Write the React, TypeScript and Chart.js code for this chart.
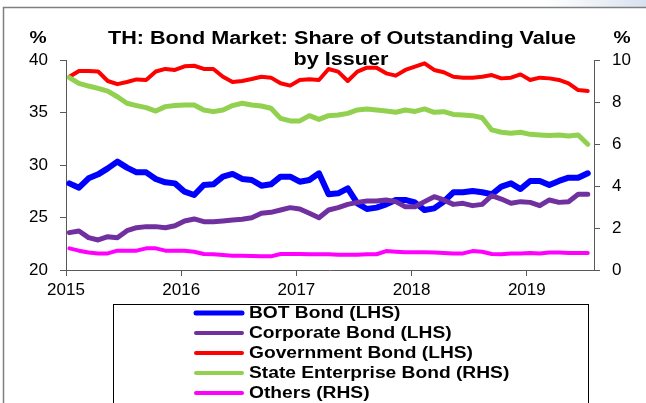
import React, { useEffect, useRef } from 'react';
import { Chart, registerables } from 'chart.js';

Chart.register(...registerables);

// ---- Data (monthly, Jan 2015 – Jul 2019) ----
const yearLabels = ['2015', '2016', '2017', '2018', '2019'];

const botBond = [
  28.25, 27.84, 28.73, 29.11, 29.68, 30.32, 29.75, 29.3, 29.3, 28.67, 28.35, 28.25,
  27.46, 27.14, 28.1, 28.16, 28.89, 29.15, 28.67, 28.57, 28.03, 28.16, 28.89, 28.89,
  28.41, 28.57, 29.21, 27.21, 27.3, 27.78, 26.35, 25.81, 25.94, 26.25, 26.67, 26.67,
  26.43, 25.71, 25.87, 26.51, 27.4, 27.4, 27.52, 27.4, 27.21, 27.94, 28.25, 27.71,
  28.48, 28.48, 28.1, 28.48, 28.79, 28.79, 29.21,
];

const corporateBond = [
  23.56, 23.71, 23.08, 22.86, 23.17, 23.08, 23.74, 24.03, 24.13, 24.13, 24.03, 24.22,
  24.67, 24.86, 24.6, 24.6, 24.67, 24.76, 24.83, 24.98, 25.4, 25.49, 25.71, 25.94,
  25.81, 25.4, 24.98, 25.71, 25.94, 26.25, 26.44, 26.57, 26.57, 26.67, 26.51, 26.03,
  26.03, 26.51, 26.98, 26.67, 26.25, 26.35, 26.13, 26.25, 27.08, 26.76, 26.35, 26.51,
  26.44, 26.13, 26.67, 26.44, 26.51, 27.21, 27.21,
];

const governmentBond = [
  38.4, 38.95, 38.95, 38.9, 38.0, 37.7, 37.9, 38.15, 38.1, 38.9, 39.15, 39.05,
  39.4, 39.45, 39.15, 39.15, 38.4, 37.9, 38.0, 38.19, 38.41, 38.32, 37.78, 37.56,
  38.1, 38.16, 38.1, 39.14, 38.89, 38.0, 38.89, 39.27, 39.27, 38.73, 38.51, 39.05,
  39.37, 39.68, 39.05, 38.83, 38.41, 38.32, 38.32, 38.41, 38.57, 38.25, 38.32, 38.63,
  38.1, 38.32, 38.25, 38.1, 37.78, 37.14, 37.05,
];

const stateEnterpriseBond = [
  9.16, 8.89, 8.76, 8.65, 8.52, 8.25, 7.94, 7.83, 7.73, 7.57, 7.78, 7.83,
  7.86, 7.86, 7.62, 7.54, 7.62, 7.83, 7.94, 7.86, 7.81, 7.7, 7.22, 7.1,
  7.1, 7.35, 7.17, 7.35, 7.38, 7.46, 7.62, 7.67, 7.62, 7.57, 7.51, 7.62,
  7.55, 7.67, 7.51, 7.54, 7.41, 7.38, 7.35, 7.25, 6.67, 6.56, 6.51, 6.56,
  6.46, 6.43, 6.4, 6.43, 6.38, 6.43, 5.99,
];

const others = [
  1.03, 0.92, 0.83, 0.79, 0.79, 0.92, 0.92, 0.92, 1.03, 1.03, 0.92, 0.92,
  0.92, 0.87, 0.76, 0.75, 0.71, 0.68, 0.68, 0.67, 0.65, 0.65, 0.76, 0.76,
  0.76, 0.75, 0.75, 0.75, 0.73, 0.73, 0.73, 0.75, 0.75, 0.9, 0.87, 0.84,
  0.84, 0.84, 0.83, 0.81, 0.79, 0.79, 0.9, 0.87, 0.76, 0.75, 0.78, 0.79,
  0.81, 0.79, 0.83, 0.83, 0.81, 0.81, 0.81,
];

const seriesNames = [
  'BOT Bond (LHS)',
  'Corporate Bond (LHS)',
  'Government Bond (LHS)',
  'State Enterprise Bond (RHS)',
  'Others (RHS)',
];
const seriesColors = ['#0000FF', '#7030A0', '#FF0000', '#92D050', '#FF00FF'];
const seriesWidths = [6, 5, 4, 5, 4];
const seriesAxes = ['y', 'y', 'y', 'y1', 'y1'];
const seriesValues = [botBond, corporateBond, governmentBond, stateEnterpriseBond, others];

const titleLines = ['TH: Bond Market: Share of Outstanding Value', 'by Issuer'];
const FONT = "'Liberation Sans', Arial, Helvetica, sans-serif";
const SX = 1.2; // horizontal stretch of the original picture's text

const toPoints = (arr: number[]) => arr.map((v, i) => ({ x: i + 0.35, y: v }));

function stretchedText(ctx: CanvasRenderingContext2D, text: string, x: number, y: number, align: CanvasTextAlign) {
  ctx.save();
  ctx.translate(x, y);
  ctx.scale(SX, 1);
  ctx.textAlign = align;
  ctx.fillText(text, 0, 0);
  ctx.restore();
}

const decorPlugin = {
  id: 'decor',
  beforeDraw(chart: any) {
    const ctx: CanvasRenderingContext2D = chart.ctx;
    ctx.save();
    ctx.fillStyle = '#ffffff';
    ctx.fillRect(0, 0, chart.width, chart.height);
    const g = ctx.createLinearGradient(540, 0, 646, 0);
    g.addColorStop(0, 'rgba(225,232,242,0)');
    g.addColorStop(1, 'rgba(215,225,238,1)');
    ctx.fillStyle = g;
    ctx.fillRect(540, 0, 106, 7);
    ctx.strokeStyle = '#7f7f7f';
    ctx.lineWidth = 1.5;
    ctx.beginPath();
    ctx.moveTo(3.5, chart.height);
    ctx.lineTo(3.5, 7.5);
    ctx.lineTo(chart.width, 7.5);
    ctx.stroke();
    ctx.restore();
  },
  afterDraw(chart: any) {
    const ctx: CanvasRenderingContext2D = chart.ctx;
    ctx.save();
    ctx.fillStyle = '#000';
    ctx.textBaseline = 'alphabetic';
    ctx.font = `bold 18px ${FONT}`;
    stretchedText(ctx, titleLines[0], 342, 43.5, 'center');
    stretchedText(ctx, titleLines[1], 341, 64.5, 'center');
    ctx.font = `bold 16px ${FONT}`;
    ctx.textBaseline = 'middle';
    stretchedText(ctx, '%', 38, 39, 'center');
    stretchedText(ctx, '%', 622, 39, 'center');

    // legend
    ctx.strokeStyle = '#000';
    ctx.lineWidth = 1;
    ctx.strokeRect(113.5, 304.5, 475, 130);
    ctx.font = `bold 16px ${FONT}`;
    ctx.textBaseline = 'middle';
    chart.data.datasets.forEach((ds: any, k: number) => {
      const y = 313 + k * 20;
      ctx.strokeStyle = ds.borderColor;
      ctx.lineWidth = k === 0 ? 5 : 4;
      ctx.lineCap = 'round';
      ctx.beginPath();
      ctx.moveTo(196, y);
      ctx.lineTo(242, y);
      ctx.stroke();
      ctx.fillStyle = '#000';
      stretchedText(ctx, ds.label, 249, y + 1, 'left');
    });
    ctx.restore();
  },
};

export default function App() {
  const ref = useRef<HTMLCanvasElement | null>(null);

  useEffect(() => {
    if (!ref.current) return;
    const tickFont = { family: FONT, size: 17 };
    const axisColor = '#595959';
    const chart = new Chart(ref.current, {
      type: 'line',
      data: {
        datasets: seriesNames.map((name, k) => ({
          label: name,
          data: toPoints(seriesValues[k]),
          borderColor: seriesColors[k],
          backgroundColor: seriesColors[k],
          borderWidth: seriesWidths[k],
          pointRadius: 0,
          tension: 0,
          fill: false,
          borderJoinStyle: 'round' as const,
          borderCapStyle: 'round' as const,
          yAxisID: seriesAxes[k],
          order: seriesNames.length - k,
        })),
      },
      options: {
        responsive: false,
        animation: false,
        events: [],
        layout: { padding: { top: 60, left: 0, right: 0, bottom: 0 } },
        plugins: {
          legend: { display: false },
          title: { display: false },
          tooltip: { enabled: false },
        },
        scales: {
          x: {
            type: 'linear',
            min: 0,
            max: 55,
            afterBuildTicks: (s: any) => {
              s.ticks = yearLabels.map((_, k) => ({ value: k * 12 }));
            },
            afterFit: (s: any) => {
              s.height = 133;
            },
            ticks: {
              autoSkip: false,
              maxRotation: 0,
              color: '#000',
              font: tickFont,
              padding: 4,
              callback: (_v: any, i: number) => yearLabels[i],
            },
            grid: { drawOnChartArea: false, drawTicks: true, tickLength: 6, color: axisColor },
            border: { color: axisColor, width: 1 },
          },
          y: {
            position: 'left',
            min: 20,
            max: 40,
            afterFit: (s: any) => {
              s.width = 66;
            },
            ticks: { stepSize: 5, color: '#000', font: tickFont, padding: 12 },
            grid: { drawOnChartArea: false, drawTicks: true, tickLength: 6, color: axisColor },
            border: { color: axisColor, width: 1 },
          },
          y1: {
            position: 'right',
            min: 0,
            max: 10,
            afterFit: (s: any) => {
              s.width = 52;
            },
            ticks: { stepSize: 2, color: '#000', font: tickFont, padding: 12 },
            grid: { drawOnChartArea: false, drawTicks: true, tickLength: 6, color: axisColor },
            border: { color: axisColor, width: 1 },
          },
        },
      } as any,
      plugins: [decorPlugin],
    });
    return () => chart.destroy();
  }, []);

  return (
    <div style={{ position: 'fixed', left: 0, top: 0, width: 646, height: 403, background: '#fff' }}>
      <canvas ref={ref} width={646} height={403} style={{ display: 'block', width: 646, height: 403 }} />
    </div>
  );
}
